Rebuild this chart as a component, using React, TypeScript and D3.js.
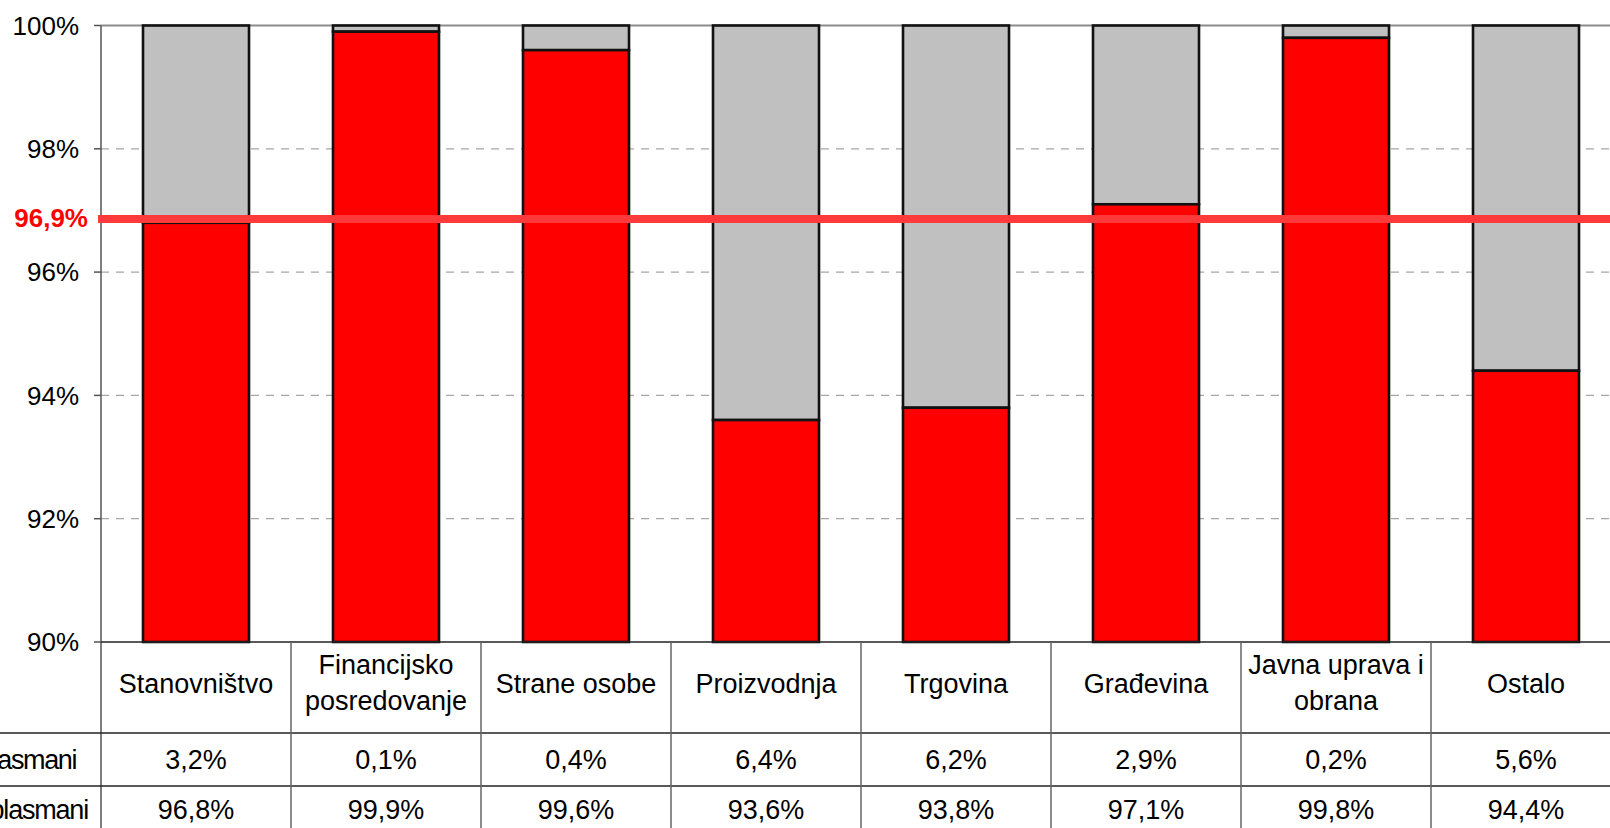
import React from "react";
import * as d3 from "d3";

const categories = [
  "Stanovništvo",
  "Financijsko\nposredovanje",
  "Strane osobe",
  "Proizvodnja",
  "Trgovina",
  "Građevina",
  "Javna uprava i\nobrana",
  "Ostalo",
];
const badShare = [3.2, 0.1, 0.4, 6.4, 6.2, 2.9, 0.2, 5.6];
const goodShare = [96.8, 99.9, 99.6, 93.6, 93.8, 97.1, 99.8, 94.4];
const yTicks = [90, 92, 94, 96, 98, 100];
const averageValue = 96.86;
const averageLabel = "96,9%";
const rowLabels = [
  "Djelomično nadoknadivi i nenadoknadivi plasmani",
  "Potpuno nadoknadivi plasmani",
];

const W = 1610;
const H = 828;
const FONT = "Arial, 'Liberation Sans', sans-serif";

const fmt = (v: number) => v.toFixed(1).replace(".", ",") + "%";

export default function App() {
  const left = 101;
  const top = 25.5;
  const bottom = 642;
  const right = 1621;
  const row1 = 733;
  const row2 = 786;
  const row3 = 839;

  const y = d3.scaleLinear().domain([90, 100]).range([bottom, top]);
  const x = d3
    .scaleBand<string>()
    .domain(categories)
    .range([left, right])
    .paddingInner(0.442)
    .paddingOuter(0.221);
  const step = x.step();
  const bw = x.bandwidth();

  return (
    <svg
      width={W}
      height={H}
      style={{ position: "absolute", left: 0, top: 0, background: "#fff" }}
      fontFamily={FONT}
    >
      <rect x={0} y={0} width={W} height={H} fill="#fff" />
      {/* gridlines */}
      {yTicks
        .filter((t) => t !== 90 && t !== 100)
        .map((t) => (
          <line
            key={"g" + t}
            x1={left}
            x2={W}
            y1={y(t)}
            y2={y(t)}
            stroke="#a6a6a6"
            strokeWidth={1.3}
            strokeDasharray="8,7"
          />
        ))}
      <line x1={left} x2={W} y1={y(100)} y2={y(100)} stroke="#8c8c8c" strokeWidth={2} />

      {/* bars */}
      {categories.map((c, i) => {
        const x0 = x(c)!;
        return (
          <g key={"b" + i}>
            <rect
              x={x0}
              y={y(100)}
              width={bw}
              height={y(goodShare[i]) - y(100)}
              fill="#c0c0c0"
              stroke="#111"
              strokeWidth={2.6}
            />
            <rect
              x={x0}
              y={y(goodShare[i])}
              width={bw}
              height={y(90) - y(goodShare[i])}
              fill="#ff0000"
              stroke="#111"
              strokeWidth={2.6}
            />
          </g>
        );
      })}

      {/* axis */}
      <line x1={left} x2={left} y1={top} y2={H} stroke="#555" strokeWidth={1.5} />
      {yTicks.map((t) => (
        <g key={"t" + t}>
          <line x1={94} x2={left} y1={y(t)} y2={y(t)} stroke="#555" strokeWidth={1.5} />
          <text
            x={79}
            y={y(t)}
            dy="0.35em"
            textAnchor="end"
            fontSize={26}
            fill="#000"
          >
            {t}%
          </text>
        </g>
      ))}

      {/* average line */}
      <line
        x1={98}
        x2={W}
        y1={y(averageValue)}
        y2={y(averageValue)}
        stroke="#ff3a3a"
        strokeWidth={8}
      />
      <text
        x={88}
        y={y(averageValue)}
        dy="0.3em"
        textAnchor="end"
        fontSize={26}
        fontWeight="bold"
        fill="#ff0000"
      >
        {averageLabel}
      </text>

      {/* data table */}
      <line x1={left} x2={W} y1={bottom} y2={bottom} stroke="#222" strokeWidth={1.5} />
      <line x1={0} x2={W} y1={row1} y2={row1} stroke="#222" strokeWidth={1.5} />
      <line x1={0} x2={W} y1={row2} y2={row2} stroke="#222" strokeWidth={1.5} />
      {categories.map((c, i) => {
        const x0 = x(c)! - (step - bw) / 2;
        const cx = x0 + step / 2;
        const lines = c.split("\n");
        return (
          <g key={"c" + i}>
            <line
              x1={x0 + step}
              x2={x0 + step}
              y1={bottom}
              y2={row3}
              stroke="#666"
              strokeWidth={1.5}
            />
            {lines.length === 1 ? (
              <text x={cx} y={693} textAnchor="middle" fontSize={27}>
                {lines[0]}
              </text>
            ) : (
              lines.map((l, j) => (
                <text key={j} x={cx} y={674 + j * 36} textAnchor="middle" fontSize={27}>
                  {l}
                </text>
              ))
            )}
            <text x={cx} y={769} textAnchor="middle" fontSize={27}>
              {fmt(badShare[i])}
            </text>
            <text x={cx} y={819} textAnchor="middle" fontSize={27}>
              {fmt(goodShare[i])}
            </text>
          </g>
        );
      })}
      <text x={76} y={769} textAnchor="end" fontSize={27} letterSpacing={-1.4}>
        {rowLabels[0]}
      </text>
      <text x={88} y={819} textAnchor="end" fontSize={27} letterSpacing={-1.2}>
        {rowLabels[1]}
      </text>
    </svg>
  );
}
